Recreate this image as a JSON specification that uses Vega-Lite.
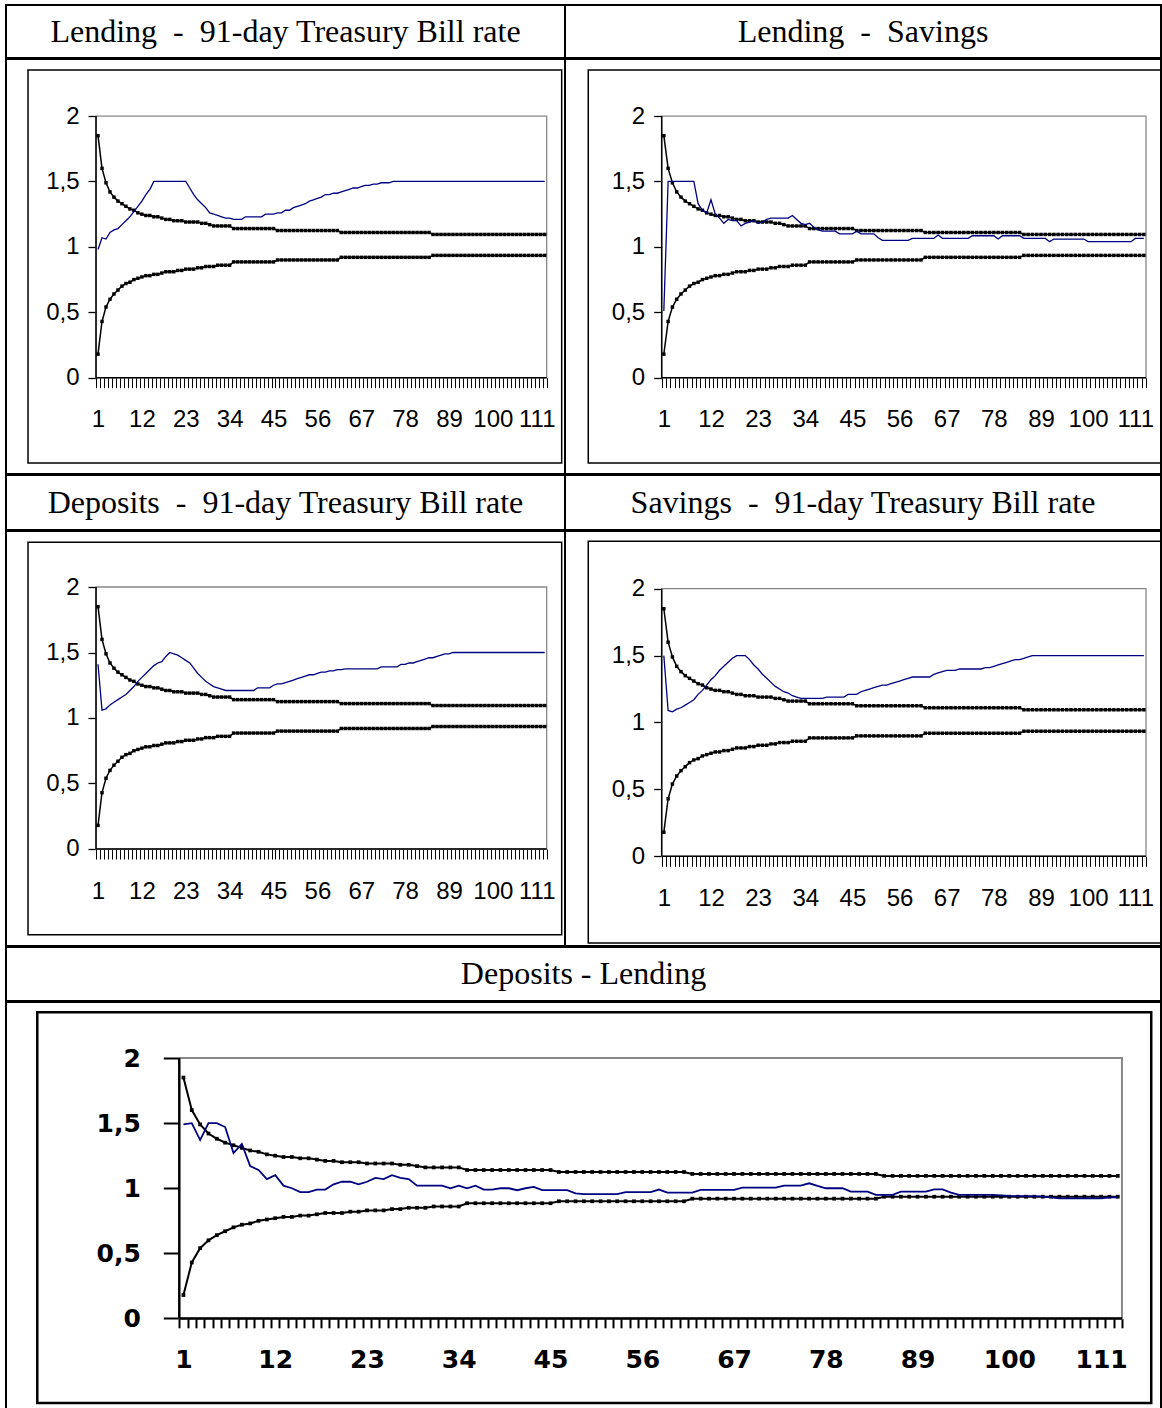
{
  "$schema": "https://vega.github.io/schema/vega-lite/v6.json",
  "background": "white",
  "padding": {"left": 5, "top": 4, "right": 0, "bottom": 0},
  "spacing": -2,
  "datasets": {
    "irf": [
      {"period":1,"upper":1.85,"lower":0.18,"lend_tb":0.98,"lend_sav":0.51,"dep_tb":1.41,"sav_tb":1.5,"dep_lend":1.49},
      {"period":2,"upper":1.6,"lower":0.43,"lend_tb":1.07,"lend_sav":1.5,"dep_tb":1.06,"sav_tb":1.09,"dep_lend":1.5},
      {"period":3,"upper":1.49,"lower":0.54,"lend_tb":1.06,"lend_sav":1.5,"dep_tb":1.07,"sav_tb":1.08,"dep_lend":1.37},
      {"period":4,"upper":1.42,"lower":0.6,"lend_tb":1.11,"lend_sav":1.5,"dep_tb":1.1,"sav_tb":1.1,"dep_lend":1.5},
      {"period":5,"upper":1.38,"lower":0.64,"lend_tb":1.13,"lend_sav":1.5,"dep_tb":1.12,"sav_tb":1.11,"dep_lend":1.5},
      {"period":6,"upper":1.35,"lower":0.67,"lend_tb":1.14,"lend_sav":1.5,"dep_tb":1.14,"sav_tb":1.13,"dep_lend":1.47},
      {"period":7,"upper":1.33,"lower":0.7,"lend_tb":1.17,"lend_sav":1.5,"dep_tb":1.16,"sav_tb":1.15,"dep_lend":1.27},
      {"period":8,"upper":1.31,"lower":0.72,"lend_tb":1.2,"lend_sav":1.5,"dep_tb":1.18,"sav_tb":1.17,"dep_lend":1.34},
      {"period":9,"upper":1.29,"lower":0.73,"lend_tb":1.23,"lend_sav":1.33,"dep_tb":1.21,"sav_tb":1.21,"dep_lend":1.17},
      {"period":10,"upper":1.28,"lower":0.75,"lend_tb":1.27,"lend_sav":1.28,"dep_tb":1.24,"sav_tb":1.24,"dep_lend":1.14},
      {"period":11,"upper":1.26,"lower":0.76,"lend_tb":1.31,"lend_sav":1.26,"dep_tb":1.28,"sav_tb":1.28,"dep_lend":1.07},
      {"period":12,"upper":1.25,"lower":0.77,"lend_tb":1.35,"lend_sav":1.36,"dep_tb":1.31,"sav_tb":1.32,"dep_lend":1.1},
      {"period":13,"upper":1.24,"lower":0.78,"lend_tb":1.4,"lend_sav":1.25,"dep_tb":1.34,"sav_tb":1.35,"dep_lend":1.02},
      {"period":14,"upper":1.24,"lower":0.78,"lend_tb":1.44,"lend_sav":1.22,"dep_tb":1.37,"sav_tb":1.39,"dep_lend":1.0},
      {"period":15,"upper":1.23,"lower":0.79,"lend_tb":1.5,"lend_sav":1.18,"dep_tb":1.4,"sav_tb":1.42,"dep_lend":0.97},
      {"period":16,"upper":1.23,"lower":0.79,"lend_tb":1.5,"lend_sav":1.21,"dep_tb":1.42,"sav_tb":1.45,"dep_lend":0.97},
      {"period":17,"upper":1.22,"lower":0.8,"lend_tb":1.5,"lend_sav":1.2,"dep_tb":1.43,"sav_tb":1.48,"dep_lend":0.99},
      {"period":18,"upper":1.21,"lower":0.81,"lend_tb":1.5,"lend_sav":1.2,"dep_tb":1.47,"sav_tb":1.5,"dep_lend":0.99},
      {"period":19,"upper":1.21,"lower":0.81,"lend_tb":1.5,"lend_sav":1.16,"dep_tb":1.5,"sav_tb":1.5,"dep_lend":1.03},
      {"period":20,"upper":1.2,"lower":0.81,"lend_tb":1.5,"lend_sav":1.18,"dep_tb":1.49,"sav_tb":1.5,"dep_lend":1.05},
      {"period":21,"upper":1.2,"lower":0.82,"lend_tb":1.5,"lend_sav":1.19,"dep_tb":1.48,"sav_tb":1.47,"dep_lend":1.05},
      {"period":22,"upper":1.2,"lower":0.82,"lend_tb":1.5,"lend_sav":1.2,"dep_tb":1.46,"sav_tb":1.43,"dep_lend":1.03},
      {"period":23,"upper":1.19,"lower":0.83,"lend_tb":1.5,"lend_sav":1.18,"dep_tb":1.44,"sav_tb":1.4,"dep_lend":1.05},
      {"period":24,"upper":1.19,"lower":0.83,"lend_tb":1.45,"lend_sav":1.19,"dep_tb":1.42,"sav_tb":1.36,"dep_lend":1.08},
      {"period":25,"upper":1.19,"lower":0.83,"lend_tb":1.4,"lend_sav":1.21,"dep_tb":1.38,"sav_tb":1.33,"dep_lend":1.07},
      {"period":26,"upper":1.19,"lower":0.84,"lend_tb":1.36,"lend_sav":1.22,"dep_tb":1.34,"sav_tb":1.3,"dep_lend":1.1},
      {"period":27,"upper":1.18,"lower":0.84,"lend_tb":1.33,"lend_sav":1.22,"dep_tb":1.31,"sav_tb":1.27,"dep_lend":1.08},
      {"period":28,"upper":1.18,"lower":0.85,"lend_tb":1.3,"lend_sav":1.22,"dep_tb":1.28,"sav_tb":1.25,"dep_lend":1.07},
      {"period":29,"upper":1.17,"lower":0.85,"lend_tb":1.26,"lend_sav":1.22,"dep_tb":1.26,"sav_tb":1.23,"dep_lend":1.02},
      {"period":30,"upper":1.16,"lower":0.85,"lend_tb":1.25,"lend_sav":1.22,"dep_tb":1.24,"sav_tb":1.22,"dep_lend":1.02},
      {"period":31,"upper":1.16,"lower":0.86,"lend_tb":1.24,"lend_sav":1.24,"dep_tb":1.23,"sav_tb":1.2,"dep_lend":1.02},
      {"period":32,"upper":1.16,"lower":0.86,"lend_tb":1.23,"lend_sav":1.21,"dep_tb":1.22,"sav_tb":1.19,"dep_lend":1.02},
      {"period":33,"upper":1.16,"lower":0.86,"lend_tb":1.22,"lend_sav":1.18,"dep_tb":1.21,"sav_tb":1.18,"dep_lend":1.0},
      {"period":34,"upper":1.16,"lower":0.86,"lend_tb":1.22,"lend_sav":1.17,"dep_tb":1.21,"sav_tb":1.18,"dep_lend":1.02},
      {"period":35,"upper":1.14,"lower":0.885,"lend_tb":1.21,"lend_sav":1.18,"dep_tb":1.21,"sav_tb":1.18,"dep_lend":1.0},
      {"period":36,"upper":1.14,"lower":0.885,"lend_tb":1.21,"lend_sav":1.15,"dep_tb":1.21,"sav_tb":1.18,"dep_lend":1.02},
      {"period":37,"upper":1.14,"lower":0.885,"lend_tb":1.21,"lend_sav":1.13,"dep_tb":1.21,"sav_tb":1.18,"dep_lend":0.99},
      {"period":38,"upper":1.14,"lower":0.885,"lend_tb":1.23,"lend_sav":1.12,"dep_tb":1.21,"sav_tb":1.18,"dep_lend":0.99},
      {"period":39,"upper":1.14,"lower":0.885,"lend_tb":1.23,"lend_sav":1.12,"dep_tb":1.21,"sav_tb":1.19,"dep_lend":1.0},
      {"period":40,"upper":1.14,"lower":0.885,"lend_tb":1.23,"lend_sav":1.12,"dep_tb":1.21,"sav_tb":1.19,"dep_lend":1.0},
      {"period":41,"upper":1.14,"lower":0.885,"lend_tb":1.23,"lend_sav":1.12,"dep_tb":1.23,"sav_tb":1.19,"dep_lend":0.985},
      {"period":42,"upper":1.14,"lower":0.885,"lend_tb":1.23,"lend_sav":1.1,"dep_tb":1.23,"sav_tb":1.19,"dep_lend":1.0},
      {"period":43,"upper":1.14,"lower":0.885,"lend_tb":1.25,"lend_sav":1.1,"dep_tb":1.23,"sav_tb":1.19,"dep_lend":1.01},
      {"period":44,"upper":1.14,"lower":0.885,"lend_tb":1.25,"lend_sav":1.1,"dep_tb":1.23,"sav_tb":1.21,"dep_lend":0.985},
      {"period":45,"upper":1.14,"lower":0.885,"lend_tb":1.25,"lend_sav":1.1,"dep_tb":1.25,"sav_tb":1.21,"dep_lend":0.985},
      {"period":46,"upper":1.125,"lower":0.9,"lend_tb":1.26,"lend_sav":1.12,"dep_tb":1.26,"sav_tb":1.21,"dep_lend":0.985},
      {"period":47,"upper":1.125,"lower":0.9,"lend_tb":1.26,"lend_sav":1.1,"dep_tb":1.26,"sav_tb":1.23,"dep_lend":0.985},
      {"period":48,"upper":1.125,"lower":0.9,"lend_tb":1.28,"lend_sav":1.1,"dep_tb":1.27,"sav_tb":1.24,"dep_lend":0.96},
      {"period":49,"upper":1.125,"lower":0.9,"lend_tb":1.28,"lend_sav":1.1,"dep_tb":1.28,"sav_tb":1.25,"dep_lend":0.955},
      {"period":50,"upper":1.125,"lower":0.9,"lend_tb":1.3,"lend_sav":1.1,"dep_tb":1.29,"sav_tb":1.26,"dep_lend":0.955},
      {"period":51,"upper":1.125,"lower":0.9,"lend_tb":1.31,"lend_sav":1.07,"dep_tb":1.3,"sav_tb":1.27,"dep_lend":0.955},
      {"period":52,"upper":1.125,"lower":0.9,"lend_tb":1.32,"lend_sav":1.05,"dep_tb":1.31,"sav_tb":1.28,"dep_lend":0.955},
      {"period":53,"upper":1.125,"lower":0.9,"lend_tb":1.33,"lend_sav":1.05,"dep_tb":1.32,"sav_tb":1.28,"dep_lend":0.955},
      {"period":54,"upper":1.125,"lower":0.9,"lend_tb":1.35,"lend_sav":1.05,"dep_tb":1.33,"sav_tb":1.29,"dep_lend":0.97},
      {"period":55,"upper":1.125,"lower":0.9,"lend_tb":1.36,"lend_sav":1.05,"dep_tb":1.33,"sav_tb":1.3,"dep_lend":0.97},
      {"period":56,"upper":1.125,"lower":0.9,"lend_tb":1.37,"lend_sav":1.05,"dep_tb":1.34,"sav_tb":1.31,"dep_lend":0.97},
      {"period":57,"upper":1.125,"lower":0.9,"lend_tb":1.38,"lend_sav":1.05,"dep_tb":1.35,"sav_tb":1.32,"dep_lend":0.97},
      {"period":58,"upper":1.125,"lower":0.9,"lend_tb":1.4,"lend_sav":1.05,"dep_tb":1.35,"sav_tb":1.33,"dep_lend":0.99},
      {"period":59,"upper":1.125,"lower":0.9,"lend_tb":1.4,"lend_sav":1.065,"dep_tb":1.36,"sav_tb":1.34,"dep_lend":0.967},
      {"period":60,"upper":1.125,"lower":0.9,"lend_tb":1.41,"lend_sav":1.065,"dep_tb":1.36,"sav_tb":1.34,"dep_lend":0.967},
      {"period":61,"upper":1.125,"lower":0.9,"lend_tb":1.41,"lend_sav":1.065,"dep_tb":1.37,"sav_tb":1.34,"dep_lend":0.967},
      {"period":62,"upper":1.11,"lower":0.92,"lend_tb":1.42,"lend_sav":1.065,"dep_tb":1.37,"sav_tb":1.34,"dep_lend":0.967},
      {"period":63,"upper":1.11,"lower":0.92,"lend_tb":1.43,"lend_sav":1.065,"dep_tb":1.375,"sav_tb":1.34,"dep_lend":0.987},
      {"period":64,"upper":1.11,"lower":0.92,"lend_tb":1.44,"lend_sav":1.065,"dep_tb":1.375,"sav_tb":1.36,"dep_lend":0.987},
      {"period":65,"upper":1.11,"lower":0.92,"lend_tb":1.45,"lend_sav":1.09,"dep_tb":1.375,"sav_tb":1.37,"dep_lend":0.987},
      {"period":66,"upper":1.11,"lower":0.92,"lend_tb":1.45,"lend_sav":1.065,"dep_tb":1.375,"sav_tb":1.38,"dep_lend":0.987},
      {"period":67,"upper":1.11,"lower":0.92,"lend_tb":1.46,"lend_sav":1.065,"dep_tb":1.375,"sav_tb":1.39,"dep_lend":0.987},
      {"period":68,"upper":1.11,"lower":0.92,"lend_tb":1.47,"lend_sav":1.065,"dep_tb":1.375,"sav_tb":1.39,"dep_lend":1.005},
      {"period":69,"upper":1.11,"lower":0.92,"lend_tb":1.47,"lend_sav":1.065,"dep_tb":1.375,"sav_tb":1.39,"dep_lend":1.005},
      {"period":70,"upper":1.11,"lower":0.92,"lend_tb":1.48,"lend_sav":1.065,"dep_tb":1.375,"sav_tb":1.4,"dep_lend":1.005},
      {"period":71,"upper":1.11,"lower":0.92,"lend_tb":1.48,"lend_sav":1.065,"dep_tb":1.375,"sav_tb":1.4,"dep_lend":1.005},
      {"period":72,"upper":1.11,"lower":0.92,"lend_tb":1.49,"lend_sav":1.065,"dep_tb":1.39,"sav_tb":1.4,"dep_lend":1.005},
      {"period":73,"upper":1.11,"lower":0.92,"lend_tb":1.49,"lend_sav":1.085,"dep_tb":1.39,"sav_tb":1.4,"dep_lend":1.02},
      {"period":74,"upper":1.11,"lower":0.92,"lend_tb":1.49,"lend_sav":1.085,"dep_tb":1.39,"sav_tb":1.4,"dep_lend":1.02},
      {"period":75,"upper":1.11,"lower":0.92,"lend_tb":1.5,"lend_sav":1.085,"dep_tb":1.39,"sav_tb":1.4,"dep_lend":1.02},
      {"period":76,"upper":1.11,"lower":0.92,"lend_tb":1.5,"lend_sav":1.085,"dep_tb":1.39,"sav_tb":1.41,"dep_lend":1.038},
      {"period":77,"upper":1.11,"lower":0.92,"lend_tb":1.5,"lend_sav":1.085,"dep_tb":1.41,"sav_tb":1.41,"dep_lend":1.018},
      {"period":78,"upper":1.11,"lower":0.92,"lend_tb":1.5,"lend_sav":1.085,"dep_tb":1.41,"sav_tb":1.42,"dep_lend":1.0},
      {"period":79,"upper":1.11,"lower":0.92,"lend_tb":1.5,"lend_sav":1.06,"dep_tb":1.42,"sav_tb":1.43,"dep_lend":1.0},
      {"period":80,"upper":1.11,"lower":0.92,"lend_tb":1.5,"lend_sav":1.085,"dep_tb":1.42,"sav_tb":1.44,"dep_lend":1.0},
      {"period":81,"upper":1.11,"lower":0.92,"lend_tb":1.5,"lend_sav":1.085,"dep_tb":1.43,"sav_tb":1.45,"dep_lend":0.974},
      {"period":82,"upper":1.11,"lower":0.92,"lend_tb":1.5,"lend_sav":1.085,"dep_tb":1.44,"sav_tb":1.46,"dep_lend":0.974},
      {"period":83,"upper":1.11,"lower":0.92,"lend_tb":1.5,"lend_sav":1.085,"dep_tb":1.45,"sav_tb":1.47,"dep_lend":0.974},
      {"period":84,"upper":1.11,"lower":0.92,"lend_tb":1.5,"lend_sav":1.085,"dep_tb":1.46,"sav_tb":1.47,"dep_lend":0.949},
      {"period":85,"upper":1.095,"lower":0.935,"lend_tb":1.5,"lend_sav":1.065,"dep_tb":1.46,"sav_tb":1.48,"dep_lend":0.949},
      {"period":86,"upper":1.095,"lower":0.935,"lend_tb":1.5,"lend_sav":1.065,"dep_tb":1.47,"sav_tb":1.49,"dep_lend":0.949},
      {"period":87,"upper":1.095,"lower":0.935,"lend_tb":1.5,"lend_sav":1.065,"dep_tb":1.48,"sav_tb":1.5,"dep_lend":0.974},
      {"period":88,"upper":1.095,"lower":0.935,"lend_tb":1.5,"lend_sav":1.065,"dep_tb":1.49,"sav_tb":1.5,"dep_lend":0.974},
      {"period":89,"upper":1.095,"lower":0.935,"lend_tb":1.5,"lend_sav":1.065,"dep_tb":1.49,"sav_tb":1.5,"dep_lend":0.974},
      {"period":90,"upper":1.095,"lower":0.935,"lend_tb":1.5,"lend_sav":1.065,"dep_tb":1.5,"sav_tb":1.5,"dep_lend":0.974},
      {"period":91,"upper":1.095,"lower":0.935,"lend_tb":1.5,"lend_sav":1.04,"dep_tb":1.5,"sav_tb":1.5,"dep_lend":0.992},
      {"period":92,"upper":1.095,"lower":0.935,"lend_tb":1.5,"lend_sav":1.06,"dep_tb":1.5,"sav_tb":1.5,"dep_lend":0.992},
      {"period":93,"upper":1.095,"lower":0.935,"lend_tb":1.5,"lend_sav":1.06,"dep_tb":1.5,"sav_tb":1.5,"dep_lend":0.967},
      {"period":94,"upper":1.095,"lower":0.935,"lend_tb":1.5,"lend_sav":1.06,"dep_tb":1.5,"sav_tb":1.5,"dep_lend":0.949},
      {"period":95,"upper":1.095,"lower":0.935,"lend_tb":1.5,"lend_sav":1.06,"dep_tb":1.5,"sav_tb":1.5,"dep_lend":0.949},
      {"period":96,"upper":1.095,"lower":0.935,"lend_tb":1.5,"lend_sav":1.06,"dep_tb":1.5,"sav_tb":1.5,"dep_lend":0.949},
      {"period":97,"upper":1.095,"lower":0.935,"lend_tb":1.5,"lend_sav":1.06,"dep_tb":1.5,"sav_tb":1.5,"dep_lend":0.949},
      {"period":98,"upper":1.095,"lower":0.935,"lend_tb":1.5,"lend_sav":1.06,"dep_tb":1.5,"sav_tb":1.5,"dep_lend":0.949},
      {"period":99,"upper":1.095,"lower":0.935,"lend_tb":1.5,"lend_sav":1.06,"dep_tb":1.5,"sav_tb":1.5,"dep_lend":0.945},
      {"period":100,"upper":1.095,"lower":0.935,"lend_tb":1.5,"lend_sav":1.04,"dep_tb":1.5,"sav_tb":1.5,"dep_lend":0.941},
      {"period":101,"upper":1.095,"lower":0.935,"lend_tb":1.5,"lend_sav":1.04,"dep_tb":1.5,"sav_tb":1.5,"dep_lend":0.94},
      {"period":102,"upper":1.095,"lower":0.935,"lend_tb":1.5,"lend_sav":1.04,"dep_tb":1.5,"sav_tb":1.5,"dep_lend":0.94},
      {"period":103,"upper":1.095,"lower":0.935,"lend_tb":1.5,"lend_sav":1.04,"dep_tb":1.5,"sav_tb":1.5,"dep_lend":0.94},
      {"period":104,"upper":1.095,"lower":0.935,"lend_tb":1.5,"lend_sav":1.04,"dep_tb":1.5,"sav_tb":1.5,"dep_lend":0.935},
      {"period":105,"upper":1.095,"lower":0.935,"lend_tb":1.5,"lend_sav":1.04,"dep_tb":1.5,"sav_tb":1.5,"dep_lend":0.93},
      {"period":106,"upper":1.095,"lower":0.935,"lend_tb":1.5,"lend_sav":1.04,"dep_tb":1.5,"sav_tb":1.5,"dep_lend":0.923},
      {"period":107,"upper":1.095,"lower":0.935,"lend_tb":1.5,"lend_sav":1.04,"dep_tb":1.5,"sav_tb":1.5,"dep_lend":0.923},
      {"period":108,"upper":1.095,"lower":0.935,"lend_tb":1.5,"lend_sav":1.04,"dep_tb":1.5,"sav_tb":1.5,"dep_lend":0.923},
      {"period":109,"upper":1.095,"lower":0.935,"lend_tb":1.5,"lend_sav":1.04,"dep_tb":1.5,"sav_tb":1.5,"dep_lend":0.923},
      {"period":110,"upper":1.095,"lower":0.935,"lend_tb":1.5,"lend_sav":1.04,"dep_tb":1.5,"sav_tb":1.5,"dep_lend":0.923},
      {"period":111,"upper":1.095,"lower":0.935,"lend_tb":1.5,"lend_sav":1.065,"dep_tb":1.5,"sav_tb":1.5,"dep_lend":0.923},
      {"period":112,"upper":1.095,"lower":0.935,"lend_tb":1.5,"lend_sav":1.065,"dep_tb":1.5,"sav_tb":1.5,"dep_lend":0.93},
      {"period":113,"upper":1.095,"lower":0.935,"lend_tb":1.5,"lend_sav":1.065,"dep_tb":1.5,"sav_tb":1.5,"dep_lend":0.931}
    ]
  },
  "vconcat": [
    {
      "hconcat": [
        {"width": 559, "height": 53, "data": {"values": [{"label": "Lending\u00a0 -\u00a0 91-day Treasury Bill rate"}]}, "mark": {"type": "text", "font": "Liberation Serif", "fontSize": 32, "color": "black"}, "encoding": {"text": {"field": "label"}, "x": {"field": "label", "type": "nominal", "axis": null}, "y": {"field": "label", "type": "nominal", "axis": null}}},
        {"width": 596, "height": 53, "data": {"values": [{"label": "Lending\u00a0 -\u00a0 Savings"}]}, "mark": {"type": "text", "font": "Liberation Serif", "fontSize": 32, "color": "black"}, "encoding": {"text": {"field": "label"}, "x": {"field": "label", "type": "nominal", "axis": null}, "y": {"field": "label", "type": "nominal", "axis": null}}}
      ],
      "spacing": 0, "bounds": "flush"
    },
    {
      "hconcat": [
        {
          "width": 559, "height": 415, "data": {"name": "irf"},
          "layer": [
            {"data": {"values": [{}]}, "mark": {"type": "rect", "filled": false, "color": "black", "strokeWidth": 1.5},
             "encoding": {
               "x": {"datum": -16.55, "type": "quantitative", "scale": {"domain": [-22.07, 118.09], "nice": false, "zero": false},
                     "axis": {"orient": "bottom", "offset": -96.3, "title": null, "tickCount": 400, "tickSize": 10, "tickWidth": 1, "labelOffset": 2, "labelPadding": 20, "labelFont": "Liberation Sans Narrow, Liberation Sans, Arial, sans-serif", "labelFontSize": 24,
                              "labelExpr": "(datum.value - 0.5) % 11 == 0 ? format(datum.value + 0.5, 'd') : ''",
                              "values": [0.5,1.5,2.5,3.5,4.5,5.5,6.5,7.5,8.5,9.5,10.5,11.5,12.5,13.5,14.5,15.5,16.5,17.5,18.5,19.5,20.5,21.5,22.5,23.5,24.5,25.5,26.5,27.5,28.5,29.5,30.5,31.5,32.5,33.5,34.5,35.5,36.5,37.5,38.5,39.5,40.5,41.5,42.5,43.5,44.5,45.5,46.5,47.5,48.5,49.5,50.5,51.5,52.5,53.5,54.5,55.5,56.5,57.5,58.5,59.5,60.5,61.5,62.5,63.5,64.5,65.5,66.5,67.5,68.5,69.5,70.5,71.5,72.5,73.5,74.5,75.5,76.5,77.5,78.5,79.5,80.5,81.5,82.5,83.5,84.5,85.5,86.5,87.5,88.5,89.5,90.5,91.5,92.5,93.5,94.5,95.5,96.5,97.5,98.5,99.5,100.5,101.5,102.5,103.5,104.5,105.5,106.5,107.5,108.5,109.5,110.5,111.5,112.5,113.5]}},
               "x2": {"datum": 117.26},
               "y": {"datum": 2.3515, "type": "quantitative", "scale": {"domain": [-0.736, 2.436], "nice": false, "zero": false},
                     "axis": {"orient": "left", "offset": -90, "title": null, "values": [0, 0.5, 1, 1.5, 2], "format": "~g", "labelExpr": "replace(datum.label, '.', ',')", "tickSize": 8, "tickWidth": 1.3, "labelPadding": 9, "labelFont": "Liberation Sans Narrow, Liberation Sans, Arial, sans-serif", "labelFontSize": 24}},
               "y2": {"datum": -0.652}
             }},
            {"data": {"values": [{}]}, "mark": {"type": "rect", "filled": false, "color": "#888888", "strokeWidth": 1.3},
             "encoding": {"x": {"datum": 0.5, "type": "quantitative"}, "x2": {"datum": 113.5}, "y": {"datum": 0, "type": "quantitative"}, "y2": {"datum": 2}}},
            {"data": {"values": [{}]}, "mark": {"type": "rule", "color": "black", "strokeWidth": 1.5},
             "encoding": {"x": {"datum": 0.5, "type": "quantitative"}, "y": {"datum": 0, "type": "quantitative"}, "y2": {"datum": 2}}},
            {"data": {"values": [{}]}, "mark": {"type": "rule", "color": "black", "strokeWidth": 1.5},
             "encoding": {"x": {"datum": 0.5, "type": "quantitative"}, "x2": {"datum": 113.5}, "y": {"datum": 0, "type": "quantitative"}}},
            {"mark": {"type": "line", "color": "black", "strokeWidth": 1.5, "point": {"shape": "square", "size": 12, "filled": true, "color": "black"}},
             "encoding": {"x": {"field": "period", "type": "quantitative"}, "y": {"field": "upper", "type": "quantitative"}}},
            {"mark": {"type": "line", "color": "black", "strokeWidth": 1.5, "point": {"shape": "square", "size": 12, "filled": true, "color": "black"}},
             "encoding": {"x": {"field": "period", "type": "quantitative"}, "y": {"field": "lower", "type": "quantitative"}}},
            {"mark": {"type": "line", "color": "#000080", "strokeWidth": 1.3},
             "encoding": {"x": {"field": "period", "type": "quantitative"}, "y": {"field": "lend_tb", "type": "quantitative"}}}
          ]
        },
        {
          "width": 596, "height": 415, "data": {"name": "irf"},
          "layer": [
            {"data": {"values": [{}]}, "mark": {"type": "rect", "filled": false, "color": "black", "strokeWidth": 1.5},
             "encoding": {
               "x": {"datum": -16.63, "type": "quantitative", "scale": {"domain": [-22.06, 117.0], "nice": false, "zero": false},
                     "axis": {"orient": "bottom", "offset": -96.3, "title": null, "tickCount": 400, "tickSize": 10, "tickWidth": 1, "labelOffset": 2.14, "labelPadding": 20, "labelFont": "Liberation Sans Narrow, Liberation Sans, Arial, sans-serif", "labelFontSize": 24,
                              "labelExpr": "(datum.value - 0.5) % 11 == 0 ? format(datum.value + 0.5, 'd') : ''",
                              "values": [0.5,1.5,2.5,3.5,4.5,5.5,6.5,7.5,8.5,9.5,10.5,11.5,12.5,13.5,14.5,15.5,16.5,17.5,18.5,19.5,20.5,21.5,22.5,23.5,24.5,25.5,26.5,27.5,28.5,29.5,30.5,31.5,32.5,33.5,34.5,35.5,36.5,37.5,38.5,39.5,40.5,41.5,42.5,43.5,44.5,45.5,46.5,47.5,48.5,49.5,50.5,51.5,52.5,53.5,54.5,55.5,56.5,57.5,58.5,59.5,60.5,61.5,62.5,63.5,64.5,65.5,66.5,67.5,68.5,69.5,70.5,71.5,72.5,73.5,74.5,75.5,76.5,77.5,78.5,79.5,80.5,81.5,82.5,83.5,84.5,85.5,86.5,87.5,88.5,89.5,90.5,91.5,92.5,93.5,94.5,95.5,96.5,97.5,98.5,99.5,100.5,101.5,102.5,103.5,104.5,105.5,106.5,107.5,108.5,109.5,110.5,111.5,112.5,113.5]}},
               "x2": {"datum": 117.0},
               "y": {"datum": 2.3515, "type": "quantitative", "scale": {"domain": [-0.736, 2.436], "nice": false, "zero": false},
                     "axis": {"orient": "left", "offset": -96.7, "title": null, "values": [0, 0.5, 1, 1.5, 2], "format": "~g", "labelExpr": "replace(datum.label, '.', ',')", "tickSize": 8, "tickWidth": 1.3, "labelPadding": 9, "labelFont": "Liberation Sans Narrow, Liberation Sans, Arial, sans-serif", "labelFontSize": 24}},
               "y2": {"datum": -0.652}
             }},
            {"data": {"values": [{}]}, "mark": {"type": "rect", "filled": false, "color": "#888888", "strokeWidth": 1.3},
             "encoding": {"x": {"datum": 0.5, "type": "quantitative"}, "x2": {"datum": 113.5}, "y": {"datum": 0, "type": "quantitative"}, "y2": {"datum": 2}}},
            {"data": {"values": [{}]}, "mark": {"type": "rule", "color": "black", "strokeWidth": 1.5},
             "encoding": {"x": {"datum": 0.5, "type": "quantitative"}, "y": {"datum": 0, "type": "quantitative"}, "y2": {"datum": 2}}},
            {"data": {"values": [{}]}, "mark": {"type": "rule", "color": "black", "strokeWidth": 1.5},
             "encoding": {"x": {"datum": 0.5, "type": "quantitative"}, "x2": {"datum": 113.5}, "y": {"datum": 0, "type": "quantitative"}}},
            {"mark": {"type": "line", "color": "black", "strokeWidth": 1.5, "point": {"shape": "square", "size": 12, "filled": true, "color": "black"}},
             "encoding": {"x": {"field": "period", "type": "quantitative"}, "y": {"field": "upper", "type": "quantitative"}}},
            {"mark": {"type": "line", "color": "black", "strokeWidth": 1.5, "point": {"shape": "square", "size": 12, "filled": true, "color": "black"}},
             "encoding": {"x": {"field": "period", "type": "quantitative"}, "y": {"field": "lower", "type": "quantitative"}}},
            {"mark": {"type": "line", "color": "#000080", "strokeWidth": 1.3},
             "encoding": {"x": {"field": "period", "type": "quantitative"}, "y": {"field": "lend_sav", "type": "quantitative"}}}
          ]
        }
      ],
      "spacing": 0, "bounds": "flush"
    },
    {
      "hconcat": [
        {"width": 559, "height": 55, "data": {"values": [{"label": "Deposits\u00a0 -\u00a0 91-day Treasury Bill rate"}]}, "mark": {"type": "text", "font": "Liberation Serif", "fontSize": 32, "color": "black"}, "encoding": {"text": {"field": "label"}, "x": {"field": "label", "type": "nominal", "axis": null}, "y": {"field": "label", "type": "nominal", "axis": null}}},
        {"width": 596, "height": 55, "data": {"values": [{"label": "Savings\u00a0 -\u00a0 91-day Treasury Bill rate"}]}, "mark": {"type": "text", "font": "Liberation Serif", "fontSize": 32, "color": "black"}, "encoding": {"text": {"field": "label"}, "x": {"field": "label", "type": "nominal", "axis": null}, "y": {"field": "label", "type": "nominal", "axis": null}}}
      ],
      "spacing": 0, "bounds": "flush"
    },
    {
      "hconcat": [
        {
          "width": 559, "height": 415, "data": {"name": "irf"},
          "layer": [
            {"data": {"values": [{}]}, "mark": {"type": "rect", "filled": false, "color": "black", "strokeWidth": 1.5},
             "encoding": {
               "x": {"datum": -16.55, "type": "quantitative", "scale": {"domain": [-22.07, 118.09], "nice": false, "zero": false},
                     "axis": {"orient": "bottom", "offset": -97, "title": null, "tickCount": 400, "tickSize": 10, "tickWidth": 1, "labelOffset": 2, "labelPadding": 20, "labelFont": "Liberation Sans Narrow, Liberation Sans, Arial, sans-serif", "labelFontSize": 24,
                              "labelExpr": "(datum.value - 0.5) % 11 == 0 ? format(datum.value + 0.5, 'd') : ''",
                              "values": [0.5,1.5,2.5,3.5,4.5,5.5,6.5,7.5,8.5,9.5,10.5,11.5,12.5,13.5,14.5,15.5,16.5,17.5,18.5,19.5,20.5,21.5,22.5,23.5,24.5,25.5,26.5,27.5,28.5,29.5,30.5,31.5,32.5,33.5,34.5,35.5,36.5,37.5,38.5,39.5,40.5,41.5,42.5,43.5,44.5,45.5,46.5,47.5,48.5,49.5,50.5,51.5,52.5,53.5,54.5,55.5,56.5,57.5,58.5,59.5,60.5,61.5,62.5,63.5,64.5,65.5,66.5,67.5,68.5,69.5,70.5,71.5,72.5,73.5,74.5,75.5,76.5,77.5,78.5,79.5,80.5,81.5,82.5,83.5,84.5,85.5,86.5,87.5,88.5,89.5,90.5,91.5,92.5,93.5,94.5,95.5,96.5,97.5,98.5,99.5,100.5,101.5,102.5,103.5,104.5,105.5,106.5,107.5,108.5,109.5,110.5,111.5,112.5,113.5]}},
               "x2": {"datum": 117.26},
               "y": {"datum": 2.341, "type": "quantitative", "scale": {"domain": [-0.7405, 2.4275], "nice": false, "zero": false},
                     "axis": {"orient": "left", "offset": -90, "title": null, "values": [0, 0.5, 1, 1.5, 2], "format": "~g", "labelExpr": "replace(datum.label, '.', ',')", "tickSize": 8, "tickWidth": 1.3, "labelPadding": 9, "labelFont": "Liberation Sans Narrow, Liberation Sans, Arial, sans-serif", "labelFontSize": 24}},
               "y2": {"datum": -0.654}
             }},
            {"data": {"values": [{}]}, "mark": {"type": "rect", "filled": false, "color": "#888888", "strokeWidth": 1.3},
             "encoding": {"x": {"datum": 0.5, "type": "quantitative"}, "x2": {"datum": 113.5}, "y": {"datum": 0, "type": "quantitative"}, "y2": {"datum": 2}}},
            {"data": {"values": [{}]}, "mark": {"type": "rule", "color": "black", "strokeWidth": 1.5},
             "encoding": {"x": {"datum": 0.5, "type": "quantitative"}, "y": {"datum": 0, "type": "quantitative"}, "y2": {"datum": 2}}},
            {"data": {"values": [{}]}, "mark": {"type": "rule", "color": "black", "strokeWidth": 1.5},
             "encoding": {"x": {"datum": 0.5, "type": "quantitative"}, "x2": {"datum": 113.5}, "y": {"datum": 0, "type": "quantitative"}}},
            {"mark": {"type": "line", "color": "black", "strokeWidth": 1.5, "point": {"shape": "square", "size": 12, "filled": true, "color": "black"}},
             "encoding": {"x": {"field": "period", "type": "quantitative"}, "y": {"field": "upper", "type": "quantitative"}}},
            {"mark": {"type": "line", "color": "black", "strokeWidth": 1.5, "point": {"shape": "square", "size": 12, "filled": true, "color": "black"}},
             "encoding": {"x": {"field": "period", "type": "quantitative"}, "y": {"field": "lower", "type": "quantitative"}}},
            {"mark": {"type": "line", "color": "#000080", "strokeWidth": 1.3},
             "encoding": {"x": {"field": "period", "type": "quantitative"}, "y": {"field": "dep_tb", "type": "quantitative"}}}
          ]
        },
        {
          "width": 596, "height": 415, "data": {"name": "irf"},
          "layer": [
            {"data": {"values": [{}]}, "mark": {"type": "rect", "filled": false, "color": "black", "strokeWidth": 1.5},
             "encoding": {
               "x": {"datum": -16.63, "type": "quantitative", "scale": {"domain": [-22.06, 117.0], "nice": false, "zero": false},
                     "axis": {"orient": "bottom", "offset": -89.7, "title": null, "tickCount": 400, "tickSize": 10, "tickWidth": 1, "labelOffset": 2.14, "labelPadding": 20, "labelFont": "Liberation Sans Narrow, Liberation Sans, Arial, sans-serif", "labelFontSize": 24,
                              "labelExpr": "(datum.value - 0.5) % 11 == 0 ? format(datum.value + 0.5, 'd') : ''",
                              "values": [0.5,1.5,2.5,3.5,4.5,5.5,6.5,7.5,8.5,9.5,10.5,11.5,12.5,13.5,14.5,15.5,16.5,17.5,18.5,19.5,20.5,21.5,22.5,23.5,24.5,25.5,26.5,27.5,28.5,29.5,30.5,31.5,32.5,33.5,34.5,35.5,36.5,37.5,38.5,39.5,40.5,41.5,42.5,43.5,44.5,45.5,46.5,47.5,48.5,49.5,50.5,51.5,52.5,53.5,54.5,55.5,56.5,57.5,58.5,59.5,60.5,61.5,62.5,63.5,64.5,65.5,66.5,67.5,68.5,69.5,70.5,71.5,72.5,73.5,74.5,75.5,76.5,77.5,78.5,79.5,80.5,81.5,82.5,83.5,84.5,85.5,86.5,87.5,88.5,89.5,90.5,91.5,92.5,93.5,94.5,95.5,96.5,97.5,98.5,99.5,100.5,101.5,102.5,103.5,104.5,105.5,106.5,107.5,108.5,109.5,110.5,111.5,112.5,113.5]}},
               "x2": {"datum": 117.0},
               "y": {"datum": 2.3543, "type": "quantitative", "scale": {"domain": [-0.6704, 2.4312], "nice": false, "zero": false},
                     "axis": {"orient": "left", "offset": -96.7, "title": null, "values": [0, 0.5, 1, 1.5, 2], "format": "~g", "labelExpr": "replace(datum.label, '.', ',')", "tickSize": 8, "tickWidth": 1.3, "labelPadding": 9, "labelFont": "Liberation Sans Narrow, Liberation Sans, Arial, sans-serif", "labelFontSize": 24}},
               "y2": {"datum": -0.648}
             }},
            {"data": {"values": [{}]}, "mark": {"type": "rect", "filled": false, "color": "#888888", "strokeWidth": 1.3},
             "encoding": {"x": {"datum": 0.5, "type": "quantitative"}, "x2": {"datum": 113.5}, "y": {"datum": 0, "type": "quantitative"}, "y2": {"datum": 2}}},
            {"data": {"values": [{}]}, "mark": {"type": "rule", "color": "black", "strokeWidth": 1.5},
             "encoding": {"x": {"datum": 0.5, "type": "quantitative"}, "y": {"datum": 0, "type": "quantitative"}, "y2": {"datum": 2}}},
            {"data": {"values": [{}]}, "mark": {"type": "rule", "color": "black", "strokeWidth": 1.5},
             "encoding": {"x": {"datum": 0.5, "type": "quantitative"}, "x2": {"datum": 113.5}, "y": {"datum": 0, "type": "quantitative"}}},
            {"mark": {"type": "line", "color": "black", "strokeWidth": 1.5, "point": {"shape": "square", "size": 12, "filled": true, "color": "black"}},
             "encoding": {"x": {"field": "period", "type": "quantitative"}, "y": {"field": "upper", "type": "quantitative"}}},
            {"mark": {"type": "line", "color": "black", "strokeWidth": 1.5, "point": {"shape": "square", "size": 12, "filled": true, "color": "black"}},
             "encoding": {"x": {"field": "period", "type": "quantitative"}, "y": {"field": "lower", "type": "quantitative"}}},
            {"mark": {"type": "line", "color": "#000080", "strokeWidth": 1.3},
             "encoding": {"x": {"field": "period", "type": "quantitative"}, "y": {"field": "sav_tb", "type": "quantitative"}}}
          ]
        }
      ],
      "spacing": 0, "bounds": "flush"
    },
    {"width": 1155, "height": 54, "data": {"values": [{"label": "Deposits - Lending"}]}, "mark": {"type": "text", "font": "Liberation Serif", "fontSize": 32, "color": "black"}, "encoding": {"text": {"field": "label"}, "x": {"field": "label", "type": "nominal", "axis": null}, "y": {"field": "label", "type": "nominal", "axis": null}}},
    {
      "width": 1155, "height": 410, "data": {"name": "irf"},
      "layer": [
        {"data": {"values": [{}]}, "mark": {"type": "rect", "filled": false, "color": "black", "strokeWidth": 2.5},
         "encoding": {
           "x": {"datum": -16.52, "type": "quantitative", "scale": {"domain": [-20.27, 118.18], "nice": false, "zero": false},
                 "axis": {"orient": "bottom", "offset": -93.5, "title": null, "tickCount": 400, "tickSize": 9.3, "tickWidth": 2, "labelOffset": 4.17, "labelPadding": 20, "labelFont": "DejaVu Sans", "labelFontWeight": "bold", "labelFontSize": 25,
                          "labelExpr": "(datum.value - 0.5) % 11 == 0 ? format(datum.value + 0.5, 'd') : ''",
                          "values": [0.5,1.5,2.5,3.5,4.5,5.5,6.5,7.5,8.5,9.5,10.5,11.5,12.5,13.5,14.5,15.5,16.5,17.5,18.5,19.5,20.5,21.5,22.5,23.5,24.5,25.5,26.5,27.5,28.5,29.5,30.5,31.5,32.5,33.5,34.5,35.5,36.5,37.5,38.5,39.5,40.5,41.5,42.5,43.5,44.5,45.5,46.5,47.5,48.5,49.5,50.5,51.5,52.5,53.5,54.5,55.5,56.5,57.5,58.5,59.5,60.5,61.5,62.5,63.5,64.5,65.5,66.5,67.5,68.5,69.5,70.5,71.5,72.5,73.5,74.5,75.5,76.5,77.5,78.5,79.5,80.5,81.5,82.5,83.5,84.5,85.5,86.5,87.5,88.5,89.5,90.5,91.5,92.5,93.5,94.5,95.5,96.5,97.5,98.5,99.5,100.5,101.5,102.5,103.5,104.5,105.5,106.5,107.5,108.5,109.5,110.5,111.5,112.5,113.5]}},
           "x2": {"datum": 117.01},
           "y": {"datum": 2.3509, "type": "quantitative", "scale": {"domain": [-0.7179, 2.43], "nice": false, "zero": false},
                 "axis": {"orient": "left", "offset": -173.3, "title": null, "values": [0, 0.5, 1, 1.5, 2], "format": "~g", "labelExpr": "replace(datum.label, '.', ',')", "tickSize": 16, "tickWidth": 2, "labelPadding": 23, "labelFont": "DejaVu Sans", "labelFontWeight": "bold", "labelFontSize": 25}},
           "y2": {"datum": -0.6488}
         }},
        {"data": {"values": [{}]}, "mark": {"type": "rect", "filled": false, "color": "#888888", "strokeWidth": 2},
         "encoding": {"x": {"datum": 0.5, "type": "quantitative"}, "x2": {"datum": 113.5}, "y": {"datum": 0, "type": "quantitative"}, "y2": {"datum": 2}}},
        {"data": {"values": [{}]}, "mark": {"type": "rule", "color": "black", "strokeWidth": 2.4},
         "encoding": {"x": {"datum": 0.5, "type": "quantitative"}, "y": {"datum": 0, "type": "quantitative"}, "y2": {"datum": 2}}},
        {"data": {"values": [{}]}, "mark": {"type": "rule", "color": "black", "strokeWidth": 2.4},
         "encoding": {"x": {"datum": 0.5, "type": "quantitative"}, "x2": {"datum": 113.5}, "y": {"datum": 0, "type": "quantitative"}}},
        {"mark": {"type": "line", "color": "black", "strokeWidth": 2, "point": {"shape": "square", "size": 14, "filled": true, "color": "black"}},
         "encoding": {"x": {"field": "period", "type": "quantitative"}, "y": {"field": "upper", "type": "quantitative"}}},
        {"mark": {"type": "line", "color": "black", "strokeWidth": 2, "point": {"shape": "square", "size": 14, "filled": true, "color": "black"}},
         "encoding": {"x": {"field": "period", "type": "quantitative"}, "y": {"field": "lower", "type": "quantitative"}}},
        {"mark": {"type": "line", "color": "#000080", "strokeWidth": 1.8},
         "encoding": {"x": {"field": "period", "type": "quantitative"}, "y": {"field": "dep_lend", "type": "quantitative"}}}
      ]
    }
  ],
  "config": {
    "view": {"stroke": "black", "strokeWidth": 2},
    "axis": {"domain": false, "grid": false, "labelColor": "black", "tickColor": "black", "labelOverlap": false, "labelFlush": false, "labelBound": false}
  }
}
